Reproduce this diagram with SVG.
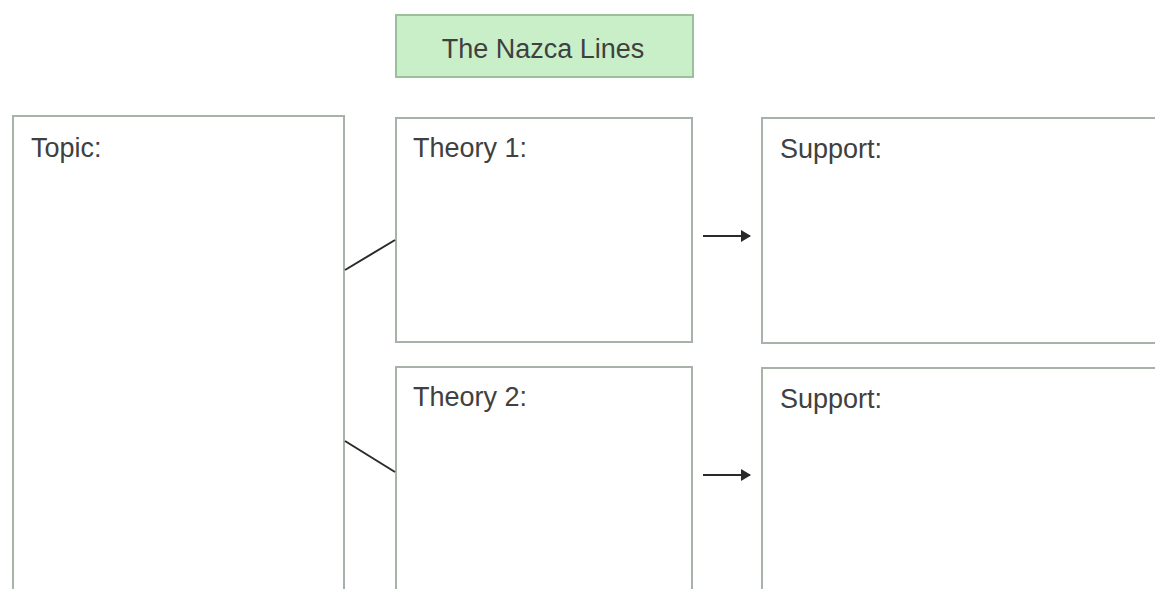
<svg xmlns="http://www.w3.org/2000/svg" width="1155" height="589" viewBox="0 0 1155 589">
<style>
.box{fill:#ffffff;stroke:#a9b2a9;stroke-width:2}
.lbl{font-family:"Liberation Sans",Arial,sans-serif;font-size:27px;fill:#404040}
.conn{stroke:#2a2a2a;stroke-width:2;fill:none}
</style>
<defs>
<marker id="ah" markerWidth="10" markerHeight="12" refX="9" refY="6" orient="auto" markerUnits="userSpaceOnUse">
<path d="M0,0 L10,6 L0,12 Z" fill="#2a2a2a"/>
</marker>
</defs>
<rect width="1155" height="589" fill="#ffffff"/>
<g id="title">
<rect x="396" y="15" width="297" height="62" fill="#c9efc9" stroke="#9cbf9c" stroke-width="2"/>
<text class="lbl" x="543" y="58" text-anchor="middle">The Nazca Lines</text>
</g>
<g id="topic">
<rect class="box" x="13" y="116" width="331" height="490"/>
<text class="lbl" x="31" y="157">Topic:</text>
</g>
<g id="theory1">
<rect class="box" x="396" y="118" width="296" height="224"/>
<text class="lbl" x="413" y="157">Theory 1:</text>
</g>
<g id="theory2">
<rect class="box" x="396" y="367" width="296" height="240"/>
<text class="lbl" x="413" y="406">Theory 2:</text>
</g>
<g id="support1">
<rect class="box" x="762" y="118" width="410" height="225"/>
<text class="lbl" x="780" y="158">Support:</text>
</g>
<g id="support2">
<rect class="box" x="762" y="368" width="410" height="240"/>
<text class="lbl" x="780" y="408">Support:</text>
</g>
<g id="connectors">
<line class="conn" x1="345" y1="270" x2="395" y2="240"/>
<line class="conn" x1="345" y1="441" x2="395" y2="472"/>
<line class="conn" x1="703" y1="236" x2="750" y2="236" marker-end="url(#ah)"/>
<line class="conn" x1="703" y1="475" x2="750" y2="475" marker-end="url(#ah)"/>
</g>
</svg>
